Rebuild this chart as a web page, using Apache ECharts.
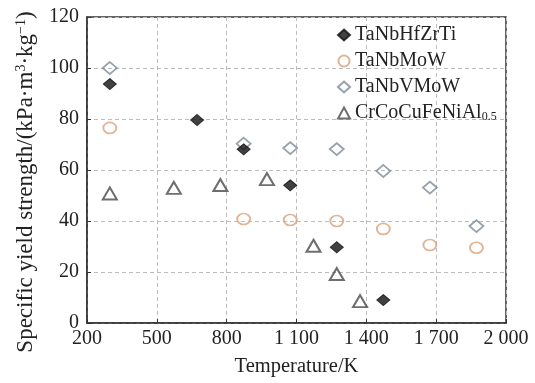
<!DOCTYPE html>
<html>
<head>
<meta charset="utf-8">
<script src="https://cdn.jsdelivr.net/npm/echarts@6/dist/echarts.min.js"></script>
<style>
html,body{margin:0;padding:0;background:#fff;}
#chart{width:535px;height:383px;}
</style>
</head>
<body>
<div id="chart"></div>
<script>
// Temperature (K) and specific yield strength (kPa·m³·kg⁻¹)
const hfzrTemps = [298, 673, 873, 1073, 1273, 1473];
const hfzrValues = [93.7, 79.6, 68.1, 54.0, 29.7, 9.0];

const moWTemps = [298, 873, 1073, 1273, 1473, 1673, 1873];
const moWValues = [76.5, 40.8, 40.4, 40.0, 36.9, 30.6, 29.5];

const vmowTemps = [298, 873, 1073, 1273, 1473, 1673, 1873];
const vmowValues = [100.0, 70.3, 68.6, 68.2, 59.6, 53.1, 38.0];

const alTemps = [298, 573, 773, 973, 1173, 1273, 1373];
const alValues = [50.8, 53.0, 54.1, 56.4, 30.3, 19.2, 8.6];

const xTicks = [200, 500, 800, 1100, 1400, 1700, 2000];
const yTicks = [0, 20, 40, 60, 80, 100, 120];

const seriesNames = ['TaNbHfZrTi', 'TaNbMoW', 'TaNbVMoW', 'CrCoCuFeNiAl0.5'];

function pairs(xs, ys) { return xs.map((x, i) => [x, ys[i]]); }

const FONT = 'Liberation Serif';
const chart = echarts.init(document.getElementById('chart'), null, {renderer: 'canvas'});

chart.setOption({
  backgroundColor: '#fff',
  animation: false,
  textStyle: {fontFamily: FONT},
  grid: {left: 87, right: 29, top: 17, bottom: 60, show: true, borderColor: '#333', borderWidth: 1.5, backgroundColor: 'transparent'},
  legend: {
    left: 332, top: 20, orient: 'vertical', itemGap: 6, itemWidth: 12, itemHeight: 11,
    textStyle: {fontFamily: FONT, fontSize: 20, color: '#222',
      rich: {sub: {fontFamily: FONT, fontSize: 12, color: '#222', verticalAlign: 'bottom', padding: [8, 0, 0, 0]}}},
    formatter: function (name) {
      if (name === 'CrCoCuFeNiAl0.5') return 'CrCoCuFeNiAl{sub|0.5}';
      return name;
    },
    data: seriesNames
  },
  xAxis: {
    type: 'value', min: xTicks[0], max: xTicks[xTicks.length - 1],
    name: 'Temperature/K', nameLocation: 'middle', nameGap: 33,
    nameTextStyle: {fontFamily: FONT, fontSize: 20.5, color: '#222'},
    axisLine: {show: true, lineStyle: {color: '#333', width: 1.5}},
    axisTick: {show: true, inside: true, length: 4, customValues: xTicks, lineStyle: {color: '#333'}},
    axisLabel: {customValues: xTicks, fontFamily: FONT, fontSize: 20, color: '#222', margin: 6,
      formatter: v => v >= 1000 ? String(v).replace(/(\d)(\d{3})$/, '$1 $2') : String(v)},
    splitLine: {show: true, lineStyle: {color: '#bdbdbd', type: [4, 3], width: 1}}
  },
  yAxis: {
    type: 'value', min: yTicks[0], max: yTicks[yTicks.length - 1], interval: 20,
    name: 'Specific yield strength/(kPa·m{sup|3}·kg{sup|−1})', nameLocation: 'middle', nameGap: 50, nameRotate: 90,
    nameTextStyle: {fontFamily: FONT, fontSize: 23, color: '#222', padding: [0, 24, 0, 0],
      rich: {sup: {fontFamily: FONT, fontSize: 14, color: '#222', verticalAlign: 'top', padding: [0, 0, 9, 0]}}},
    axisLine: {show: true, lineStyle: {color: '#333', width: 1.5}},
    axisTick: {show: true, inside: true, length: 4, lineStyle: {color: '#333'}},
    axisLabel: {fontFamily: FONT, fontSize: 20, color: '#222', margin: 8},
    splitLine: {show: true, lineStyle: {color: '#bdbdbd', type: [4, 3], width: 1}}
  },
  series: [
    {name: seriesNames[0], type: 'scatter', symbol: 'diamond', symbolSize: [13, 11], z: 4,
      itemStyle: {color: '#111', borderColor: '#111', borderWidth: 1},
      data: pairs(hfzrTemps, hfzrValues)},
    {name: seriesNames[1], type: 'scatter', symbol: 'circle', symbolSize: [13, 11], z: 3,
      itemStyle: {color: 'rgba(255,255,255,0)', borderColor: '#d8a27c', borderWidth: 1.8},
      data: pairs(moWTemps, moWValues)},
    {name: seriesNames[2], type: 'scatter', symbol: 'diamond', symbolSize: [14, 12], z: 2,
      itemStyle: {color: 'rgba(255,255,255,0)', borderColor: '#7d8899', borderWidth: 1.8},
      data: pairs(vmowTemps, vmowValues)},
    {name: seriesNames[3], type: 'scatter', symbol: 'triangle', symbolSize: [14, 12], z: 3,
      itemStyle: {color: 'rgba(255,255,255,0)', borderColor: '#4a4a4a', borderWidth: 2},
      data: pairs(alTemps, alValues)}
  ]
});
</script>
</body>
</html>
